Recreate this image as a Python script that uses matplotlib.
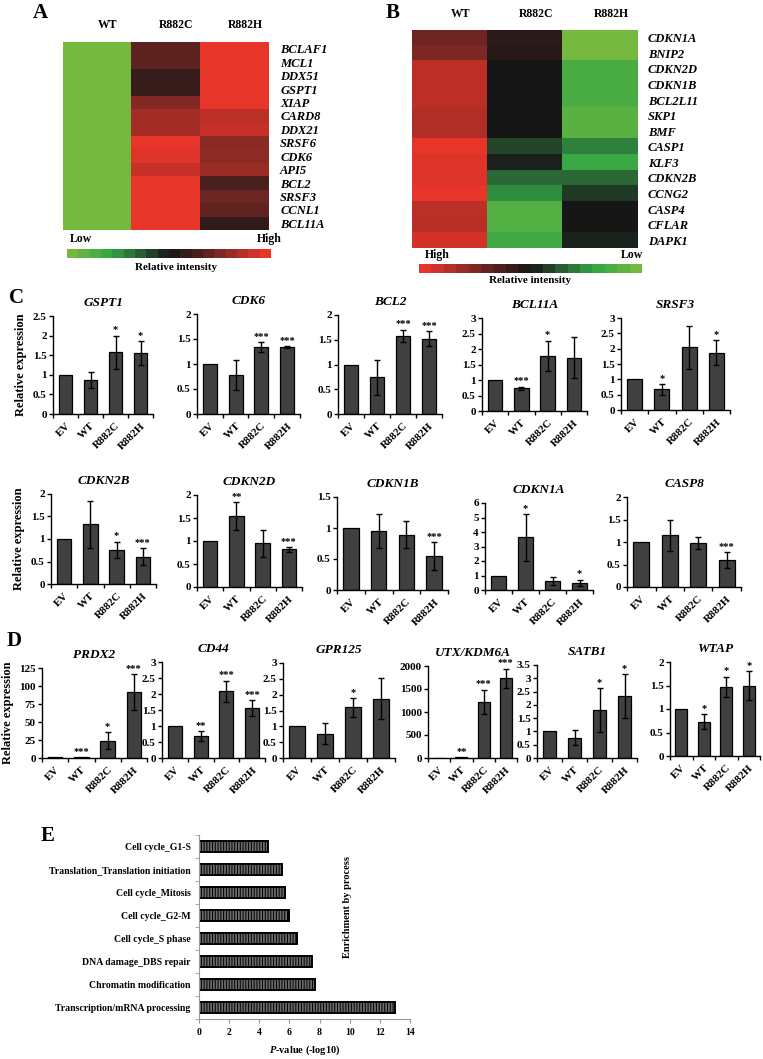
import numpy as np
import matplotlib
matplotlib.use("Agg")
import matplotlib.pyplot as plt
from matplotlib.colors import LinearSegmentedColormap, BoundaryNorm
from matplotlib.cm import ScalarMappable
from matplotlib.ticker import MultipleLocator, FuncFormatter

plt.rcParams['font.family'] = ['Liberation Serif', 'DejaVu Serif']
plt.rcParams['font.weight'] = 'bold'
plt.rcParams['axes.titleweight'] = 'bold'
plt.rcParams['axes.labelweight'] = 'bold'
plt.rcParams['mathtext.fontset'] = 'custom'
plt.rcParams['mathtext.it'] = 'Liberation Serif:bold:italic'
plt.rcParams['mathtext.rm'] = 'Liberation Serif:bold'
plt.rcParams['hatch.color'] = 'black'
plt.rcParams['hatch.linewidth'] = 0.7

W, H = 763, 1059

# ---------------- data ----------------
heat_cols = ["WT", "R882C", "R882H"]

# panel A (-1 = low / green, 0 = black, 1 = high / red)
genes_a = ["BCLAF1", "MCL1", "DDX51", "GSPT1", "XIAP", "CARD8", "DDX21",
           "SRSF6", "CDK6", "API5", "BCL2", "SRSF3", "CCNL1", "BCL11A"]
a_wt = [-1, -1, -1, -1, -1, -1, -1, -1, -1, -1, -1, -1, -1, -1]
a_r882c = [0.38, 0.38, 0.2, 0.2, 0.55, 0.7, 0.7, 1.0, 0.95, 0.85, 1.0, 1.0, 1.0, 1.0]
a_r882h = [1.0, 1.0, 1.0, 1.0, 1.0, 0.8, 0.85, 0.58, 0.6, 0.65, 0.3, 0.45, 0.4, 0.15]

# panel B
genes_b = ["CDKN1A", "BNIP2", "CDKN2D", "CDKN1B", "BCL2L11", "SKP1", "BMF",
           "CASP1", "KLF3", "CDKN2B", "CCNG2", "CASP4", "CFLAR", "DAPK1"]
b_wt = [0.45, 0.52, 0.8, 0.8, 0.8, 0.75, 0.75, 1.0, 0.95, 0.95, 1.0, 0.8, 0.78, 0.9]
b_r882c = [0.12, 0.1, 0.0, 0.0, 0.0, 0.0, 0.0, -0.2, -0.05, -0.35, -0.5, -0.8, -0.8, -0.7]
b_r882h = [-1, -1, -0.75, -0.75, -0.75, -0.85, -0.85, -0.45, -0.65, -0.35, -0.15, 0.0, 0.0, -0.05]

groups = ["EV", "WT", "R882C", "R882H"]

# panel C, row 1
c1_titles = ["GSPT1", "CDK6", "BCL2", "BCL11A", "SRSF3"]
c1_vals = [[1.0, 0.86, 1.57, 1.55], [1.0, 0.78, 1.34, 1.34], [1.0, 0.74, 1.58, 1.52],
           [1.0, 0.73, 1.78, 1.72], [1.0, 0.67, 2.04, 1.87]]
c1_errs = [[0, 0.2, 0.43, 0.31], [0, 0.3, 0.1, 0.02], [0, 0.36, 0.12, 0.15],
           [0, 0.05, 0.49, 0.66], [0, 0.18, 0.7, 0.4]]
c1_stars = [["", "", "*", "*"], ["", "", "***", "***"], ["", "", "***", "***"],
            ["", "***", "*", ""], ["", "*", "", "*"]]
c1_ymax = [2.5, 2, 2, 3, 3]
c1_step = [0.5, 0.5, 0.5, 0.5, 0.5]

# panel C, row 2
c2_titles = ["CDKN2B", "CDKN2D", "CDKN1B", "CDKN1A", "CASP8"]
c2_vals = [[1.0, 1.33, 0.76, 0.61], [1.0, 1.54, 0.95, 0.82], [1.0, 0.95, 0.89, 0.55],
           [1.0, 3.63, 0.62, 0.5], [1.0, 1.15, 0.98, 0.6]]
c2_errs = [[0, 0.52, 0.18, 0.18], [0, 0.3, 0.3, 0.05], [0, 0.27, 0.22, 0.22],
           [0, 1.6, 0.28, 0.2], [0, 0.35, 0.14, 0.17]]
c2_stars = [["", "", "*", "***"], ["", "**", "", "***"], ["", "", "", "***"],
            ["", "*", "", "*"], ["", "", "", "***"]]
c2_ymax = [2, 2, 1.5, 6, 2]
c2_step = [0.5, 0.5, 0.5, 1, 0.5]

# panel D
d_titles = ["PRDX2", "CD44", "GPR125", "UTX/KDM6A", "SATB1", "WTAP"]
d_vals = [[1, 1, 24, 91], [1.0, 0.68, 2.09, 1.55], [1.0, 0.77, 1.6, 1.87],
          [10, 12, 1220, 1730], [1.0, 0.77, 1.8, 2.33], [1.0, 0.73, 1.47, 1.5]]
d_errs = [[0, 0, 12, 25], [0, 0.15, 0.33, 0.25], [0, 0.33, 0.29, 0.65],
          [0, 0, 265, 215], [0, 0.28, 0.83, 0.82], [0, 0.16, 0.22, 0.3]]
d_stars = [["", "***", "*", "***"], ["", "**", "***", "***"], ["", "", "*", ""],
           ["", "**", "***", "***"], ["", "", "*", "*"], ["", "*", "*", "*"]]
d_ymax = [125, 3, 3, 2000, 3.5, 2]
d_step = [25, 0.5, 0.5, 500, 0.5, 0.5]

# panel E
processes = ["Transcription/mRNA processing", "Chromatin modification",
             "DNA damage_DBS repair", "Cell cycle_S phase", "Cell cycle_G2-M",
             "Cell cycle_Mitosis", "Translation_Translation initiation", "Cell cycle_G1-S"]
pvals = [13.0, 7.7, 7.5, 6.5, 5.95, 5.7, 5.5, 4.6]

# ---------------- helpers ----------------
def px_axes(fig, x0, y0, x1, y1):
    return fig.add_axes([x0 / W, 1 - y1 / H, (x1 - x0) / W, (y1 - y0) / H])

cmap = LinearSegmentedColormap.from_list("gr", [
    (0.0, "#74b83f"), (0.2, "#30a646"), (0.35, "#2b5c33"), (0.5, "#161616"),
    (0.65, "#4a201e"), (0.8, "#8e2a25"), (1.0, "#e8352a")])

def heatmap(fig, box, cols, genes, label_px):
    ax = px_axes(fig, *box)
    mat = np.array(cols).T
    ax.imshow(mat, cmap=cmap, vmin=-1, vmax=1, aspect="auto", interpolation="nearest")
    ax.set_xticks(np.arange(len(heat_cols)) + 0.15)
    ax.set_xticklabels(heat_cols, fontsize=8.5)
    ax.xaxis.tick_top()
    ax.set_yticks(np.arange(len(genes)))
    ax.set_yticklabels(genes, fontsize=9, style="italic")
    ax.yaxis.tick_right()
    ax.tick_params(length=0, pad=label_px)
    for s in ax.spines.values():
        s.set_visible(False)
    return ax

def colorbar(fig, box, cm):
    cax = px_axes(fig, *box)
    bounds = np.linspace(-1, 1, 19)
    sm = ScalarMappable(norm=BoundaryNorm(bounds, cm.N), cmap=cm)
    cb = fig.colorbar(sm, cax=cax, orientation="horizontal", ticks=[])
    cb.outline.set_visible(False)
    cax.minorticks_off()
    cax.tick_params(which="both", length=0)

fmt = FuncFormatter(lambda v, p: "%g" % v)

def bar_panel(ax, title, vals, errs, stars, ymax, step, ylabel=False):
    x = np.arange(len(groups))
    ax.bar(x, vals, width=0.55, color="#404040", edgecolor="black", linewidth=0.9)
    for xi, v, e, s in zip(x, vals, errs, stars):
        if e > 0:
            ax.errorbar(xi, v, yerr=e, fmt="none", ecolor="black", elinewidth=1,
                        capsize=2.5, capthick=1)
        if s:
            ax.annotate(s, (xi, v + e), xytext=(0, 1), textcoords="offset points",
                        ha="center", va="bottom", fontsize=7.5)
    ax.set_xlim(-0.5, 3.5)
    ax.set_ylim(0, ymax)
    ax.yaxis.set_major_locator(MultipleLocator(step))
    ax.yaxis.set_major_formatter(fmt)
    ax.set_xticks(x)
    ax.set_xticklabels(groups, rotation=45, ha="right", rotation_mode="anchor", fontsize=8)
    ax.set_xticks(np.arange(-0.5, 4, 1), minor=True)
    ax.tick_params(axis="x", which="major", length=0, pad=5)
    ax.tick_params(axis="x", which="minor", length=3, width=1, direction="out")
    ax.tick_params(axis="y", length=3, width=1, labelsize=8, pad=1.5)
    for side in ("top", "right"):
        ax.spines[side].set_visible(False)
    for side in ("left", "bottom"):
        ax.spines[side].set_linewidth(1)
    ax.set_title(title, style="italic", fontsize=9.5, pad=7)
    if ylabel:
        ax.set_ylabel("Relative expression", fontsize=9, labelpad=4)

# ---------------- figure ----------------
fig = plt.figure(figsize=(W / 100, H / 100), dpi=100)

# A
heatmap(fig, (63, 42, 269, 230), [a_wt, a_r882c, a_r882h], genes_a, 8)
fig.text(70 / W, 1 - 239 / H, "Low", fontsize=8.5, va="center")
fig.text(282 / W, 1 - 239 / H, "High", fontsize=8.5, va="center", ha="right")
colorbar(fig, (67, 249, 271, 258), cmap)
fig.text(176 / W, 1 - 268 / H, "Relative intensity", fontsize=8, ha="center", va="center")
fig.text(40 / W, 1 - 13 / H, "A", fontsize=15, ha="center", va="center")

# B
heatmap(fig, (412, 30, 638, 248), [b_wt, b_r882c, b_r882h], genes_b, 7)
fig.text(425 / W, 1 - 255 / H, "High", fontsize=8.5, va="center")
fig.text(643 / W, 1 - 255 / H, "Low", fontsize=8.5, va="center", ha="right")
colorbar(fig, (419, 264, 642, 273), cmap.reversed())
fig.text(530 / W, 1 - 280 / H, "Relative intensity", fontsize=8, ha="center", va="center")
fig.text(393 / W, 1 - 13 / H, "B", fontsize=15, ha="center", va="center")

# C row 1
c1_boxes = [(53, 316, 153, 414), (197, 314, 300, 414), (338, 315, 442, 414),
            (482, 318, 587, 411), (621, 318, 730, 410)]
for i, box in enumerate(c1_boxes):
    ax = px_axes(fig, *box)
    bar_panel(ax, c1_titles[i], c1_vals[i], c1_errs[i], c1_stars[i], c1_ymax[i],
              c1_step[i], ylabel=(i == 0))
fig.text(16 / W, 1 - 298 / H, "C", fontsize=15, ha="center", va="center")

# C row 2
c2_boxes = [(51, 494, 156, 584), (197, 495, 302, 587), (337, 497, 448, 590),
            (485, 503, 593, 590), (627, 497, 741, 587)]
for i, box in enumerate(c2_boxes):
    ax = px_axes(fig, *box)
    bar_panel(ax, c2_titles[i], c2_vals[i], c2_errs[i], c2_stars[i], c2_ymax[i],
              c2_step[i], ylabel=(i == 0))

# D
d_boxes = [(42, 668, 147, 758), (162, 662, 265, 758), (283, 663, 395, 758),
           (428, 666, 517, 758), (537, 665, 637, 758), (670, 662, 760, 756)]
for i, box in enumerate(d_boxes):
    ax = px_axes(fig, *box)
    bar_panel(ax, d_titles[i], d_vals[i], d_errs[i], d_stars[i], d_ymax[i],
              d_step[i], ylabel=(i == 0))
fig.text(14 / W, 1 - 641 / H, "D", fontsize=15, ha="center", va="center")

# E
ax = px_axes(fig, 199, 835, 410, 1019)
y = np.arange(len(processes))
ax.barh(y, pvals, height=0.45, color="#6a6a6a", edgecolor="black", linewidth=1.4,
        hatch="||||||")
ax.set_ylim(-0.5, len(processes) - 0.5)
ax.set_xlim(0, 14)
ax.xaxis.set_major_locator(MultipleLocator(2))
ax.set_yticks(y)
ax.set_yticklabels(processes, fontsize=7)
ax.set_yticks(np.arange(-0.5, len(processes), 1), minor=True)
ax.tick_params(axis="y", which="major", length=0, pad=6)
ax.tick_params(axis="y", which="minor", length=3, color="#999999")
ax.tick_params(axis="x", length=3, color="#999999", labelsize=7)
for side in ("top", "right"):
    ax.spines[side].set_visible(False)
for side in ("left", "bottom"):
    ax.spines[side].set_color("#999999")
ax.set_xlabel("$P$-value (-log10)", fontsize=7.5, labelpad=5)
fig.text(348 / W, 1 - 907 / H, "Enrichment by process", rotation=90, fontsize=7.5,
         ha="center", va="center")
fig.text(48 / W, 1 - 836 / H, "E", fontsize=15, ha="center", va="center")

fig.savefig("out.png", dpi=100)
